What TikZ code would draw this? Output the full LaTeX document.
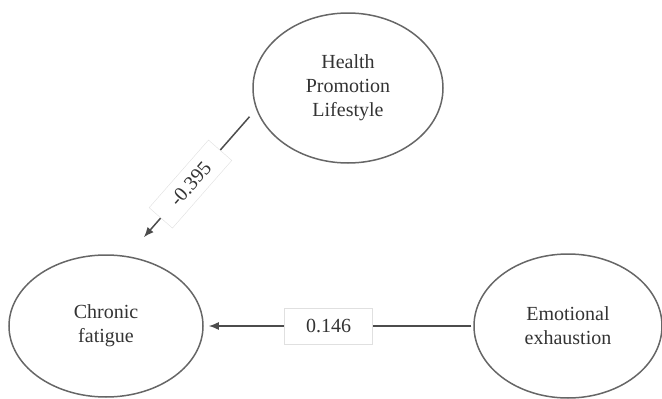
\documentclass[tikz,border=0pt]{standalone}
\usepackage{fontspec}
\setmainfont{Liberation Serif}
\usetikzlibrary{positioning, shapes.geometric, arrows.meta}

\begin{document}
\begin{tikzpicture}[
    x=1pt, y=-1pt,
    >={Latex[length=10pt,width=8pt]},
    font=\fontsize{20}{24}\selectfont,
    construct/.style={
        ellipse,
        draw=black!60,
        line width=1.5pt,
        inner sep=0pt,
        align=center,
        text=black!80
    },
    arrow/.style={
        ->,
        draw=black!70,
        line width=1.5pt
    },
    coef/.style={
        rectangle,
        fill=white,
        draw=black!12,
        thin,
        inner sep=0pt,
        text=black!80
    }
]

    \useasboundingbox (0,0) rectangle (662,399);

    % Constructs
    \node[construct, minimum width=190pt, minimum height=150pt] (hpl) at (348,88) {Health\\Promotion\\Lifestyle};
    \node[construct, minimum width=194pt, minimum height=142pt] (cf) at (106,326) {Chronic\\fatigue};
    \node[construct, minimum width=188pt, minimum height=144pt] (ee) at (568,326) {Emotional\\exhaustion};

    % Paths
    \draw[arrow, shorten <=10pt, shorten >=25pt] (hpl.193) -- (cf.73)
        node[coef, sloped, pos=0.51, minimum width=90pt, minimum height=31pt] (c1) {-0.395};
    \draw[arrow, shorten <=2pt, shorten >=5pt] (ee.west) -- (cf.east)
        node[coef, pos=0.537, minimum width=88pt, minimum height=36pt] (c2) {0.146};

\end{tikzpicture}
\end{document}
